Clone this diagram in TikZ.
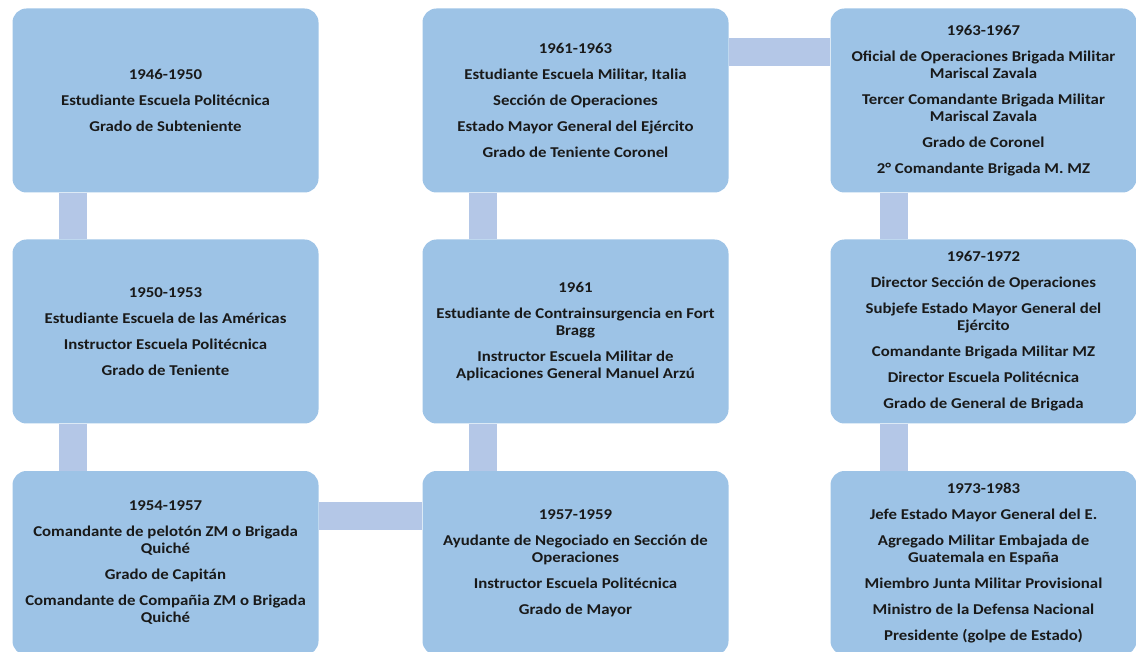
\documentclass[tikz,border=0pt]{standalone}
\usepackage{fontspec}
\setmainfont{Carlito}[FakeStretch=1.12]
\definecolor{boxblue}{HTML}{9DC3E6}
\definecolor{barblue}{HTML}{B4C7E7}
\tikzset{
  evt/.style={fill=boxblue, rounded corners=14pt, minimum width=306pt, minimum height=184pt,
    inner sep=0pt, align=center, font=\fontsize{15}{17}\selectfont\bfseries, text=black!90},
  bar/.style={draw=barblue, line width=28pt}
}
\begin{document}
\begin{tikzpicture}[x=1pt,y=-1pt]
\useasboundingbox (0,0) rectangle (1136,652);
% column 1
\node[evt] (a1) at (165.5,100.5) {1946-1950\\[9pt]Estudiante Escuela Politécnica\\[9pt]Grado de Subteniente};
\node[evt] (a2) at (165.5,331.5) {1950-1953\\[9pt]Estudiante Escuela de las Américas\\[9pt]Instructor Escuela Politécnica\\[9pt]Grado de Teniente};
\node[evt] (a3) at (165.5,563) {1954-1957\\[9pt]Comandante de pelotón ZM o Brigada\\Quiché\\[9pt]Grado de Capitán\\[9pt]Comandante de Compañia ZM o Brigada\\Quiché};
% column 2
\node[evt] (b1) at (575.5,100.5) {1961-1963\\[9pt]Estudiante Escuela Militar, Italia\\[9pt]Sección de Operaciones\\[9pt]Estado Mayor General del Ejército\\[9pt]Grado de Teniente Coronel};
\node[evt] (b2) at (575.5,331.5) {1961\\[9pt]Estudiante de Contrainsurgencia en Fort\\Bragg\\[9pt]Instructor Escuela Militar de\\Aplicaciones General Manuel Arzú};
\node[evt] (b3) at (575.5,563) {1957-1959\\[9pt]Ayudante de Negociado en Sección de\\Operaciones\\[9pt]Instructor Escuela Politécnica\\[9pt]Grado de Mayor};
% column 3
\node[evt] (c1) at (983.5,100.5) {1963-1967\\[9pt]Oficial de Operaciones Brigada Militar\\Mariscal Zavala\\[9pt]Tercer Comandante Brigada Militar\\Mariscal Zavala\\[9pt]Grado de Coronel\\[9pt]2° Comandante Brigada M. MZ};
\node[evt] (c2) at (983.5,331.5) {1967-1972\\[9pt]Director Sección de Operaciones\\[9pt]Subjefe Estado Mayor General del\\Ejército\\[9pt]Comandante Brigada Militar MZ\\[9pt]Director Escuela Politécnica\\[9pt]Grado de General de Brigada};
\node[evt] (c3) at (983.5,563) {1973-1983\\[9pt]Jefe Estado Mayor General del E.\\[9pt]Agregado Militar Embajada de\\Guatemala en España\\[9pt]Miembro Junta Militar Provisional\\[9pt]Ministro de la Defensa Nacional\\[9pt]Presidente (golpe de Estado)};
% connectors
\draw[bar] ([xshift=60.5pt]a1.south west) -- ([xshift=60.5pt]a2.north west);
\draw[bar] ([xshift=60.5pt]a2.south west) -- ([xshift=60.5pt]a3.north west);
\draw[bar] ([yshift=-45pt]a3.north east) -- ([yshift=-45pt]b3.north west);
\draw[bar] ([xshift=60.5pt]b3.north west) -- ([xshift=60.5pt]b2.south west);
\draw[bar] ([xshift=60.5pt]b2.north west) -- ([xshift=60.5pt]b1.south west);
\draw[bar] ([yshift=-44pt]b1.north east) -- ([yshift=-44pt]c1.north west);
\draw[bar] ([xshift=63.5pt]c1.south west) -- ([xshift=63.5pt]c2.north west);
\draw[bar] ([xshift=63.5pt]c2.south west) -- ([xshift=63.5pt]c3.north west);
\end{tikzpicture}
\end{document}
